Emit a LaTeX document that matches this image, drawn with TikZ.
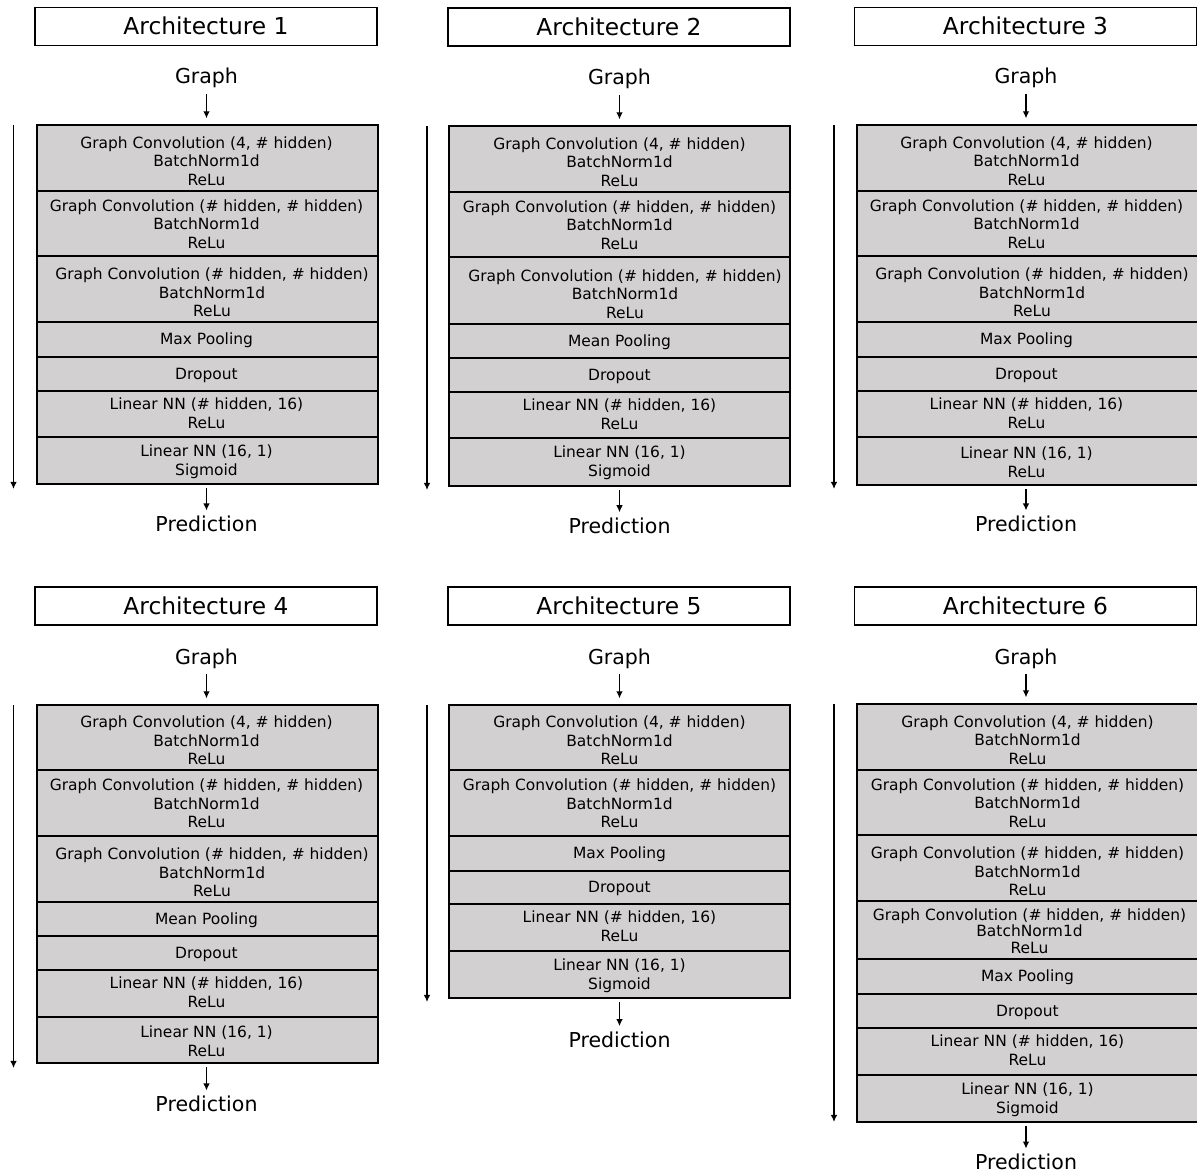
\documentclass[tikz,border=0pt]{standalone}
\usepackage{fontspec}
\setmainfont{DejaVu Sans}
\usetikzlibrary{arrows.meta}
\definecolor{layfill}{RGB}{211,208,209}
\tikzset{
  layerbox/.style={draw=black, fill=layfill, line width=1.1pt, minimum width=255.75pt, inner sep=0pt, outer sep=0pt},
  laytext/.style={align=center, inner sep=0pt, font=\fontsize{11.6}{13.95}\selectfont},
  tighttext/.style={font=\fontsize{11.6}{12.5}\selectfont},
  titlebox/.style={draw=black, line width=0.8pt, minimum width=256.5pt, minimum height=28.5pt, inner sep=0pt, font=\fontsize{17.5}{21}\selectfont},
  io/.style={inner sep=0pt, anchor=base, font=\fontsize{15.4}{18}\selectfont},
  tipstyle/.style={-{Latex[length=5.3pt,width=5pt]}},
  gin/.style={tipstyle, line width=1pt, shorten <=4.1pt, shorten >=5pt},
  gout/.style={tipstyle, line width=1pt, shorten <=3.2pt, shorten >=4pt},
  side/.style={tipstyle, line width=1.3pt},
}
\newcommand\archlayer[8][]{%
  \pgfmathsetlengthmacro\layh{(#5-#4)*0.75}%
  \node[layerbox, minimum height=\layh, anchor=north west] (#2) at (#3,#4) {};
  \node[laytext, #1] (#2t) at ([shift={(#6,#7)}]#2.center) {#8};
}
\begin{document}
\begin{tikzpicture}[x=0.75pt, y=-0.75pt]
\useasboundingbox (0,0) rectangle (1197,1173);

% ---------------- Architecture 1 ----------------
\node[titlebox] (t1) at (206,26.2) {Architecture 1};
\node[io] (g1) at (206.5,84) {Graph};
\archlayer{a1l1}{37}{125}{191}{-1}{3}{Graph Convolution (4, \# hidden)\\BatchNorm1d\\ReLu}
\archlayer{a1l2}{37}{191}{256}{-1}{0.5}{Graph Convolution (\# hidden, \# hidden)\\BatchNorm1d\\ReLu}
\archlayer{a1l3}{37}{256}{322}{4.5}{3.5}{Graph Convolution (\# hidden, \# hidden)\\BatchNorm1d\\ReLu}
\archlayer{a1l4}{37}{322}{357}{-1}{1}{Max Pooling}
\archlayer{a1l5}{37}{357}{391}{-1}{1}{Dropout}
\archlayer{a1l6}{37}{391}{437}{-1}{-1}{Linear NN (\# hidden, 16)\\ReLu}
\archlayer{a1l7}{37}{437}{484}{-1}{1}{Linear NN (16, 1)\\Sigmoid}
\node[io] (p1) at (206.5,531.7) {Prediction};
\draw[gin] (g1.south) -- (g1.south |- a1l1.north);
\draw[gout] (a1l7.south -| p1) -- (p1.north);
\coordinate (s1a) at (13.5,125);
\coordinate (s1b) at (13.5,489);
\draw[side] (s1a) -- (s1b);

% ---------------- Architecture 2 ----------------
\node[titlebox] (t2) at (619,27) {Architecture 2};
\node[io] (g2) at (619.5,85) {Graph};
\archlayer{a2l1}{449}{126}{192}{0}{3}{Graph Convolution (4, \# hidden)\\BatchNorm1d\\ReLu}
\archlayer{a2l2}{449}{192}{257}{0}{0.5}{Graph Convolution (\# hidden, \# hidden)\\BatchNorm1d\\ReLu}
\archlayer{a2l3}{449}{257}{324}{5.5}{3.5}{Graph Convolution (\# hidden, \# hidden)\\BatchNorm1d\\ReLu}
\archlayer{a2l4}{449}{324}{358}{0}{1}{Mean Pooling}
\archlayer{a2l5}{449}{358}{392}{0}{1}{Dropout}
\archlayer{a2l6}{449}{392}{438}{0}{-1}{Linear NN (\# hidden, 16)\\ReLu}
\archlayer{a2l7}{449}{438}{486}{0}{1}{Linear NN (16, 1)\\Sigmoid}
\node[io] (p2) at (619.5,533.5) {Prediction};
\draw[gin] (g2.south) -- (g2.south |- a2l1.north);
\draw[gout] (a2l7.south -| p2) -- (p2.north);
\coordinate (s2a) at (427,126);
\coordinate (s2b) at (427,490);
\draw[side] (s2a) -- (s2b);

% ---------------- Architecture 3 ----------------
\node[titlebox] (t3) at (1025.5,26.2) {Architecture 3};
\node[io] (g3) at (1026,84) {Graph};
\archlayer{a3l1}{857}{125}{191}{-1}{3}{Graph Convolution (4, \# hidden)\\BatchNorm1d\\ReLu}
\archlayer{a3l2}{857}{191}{256}{-1}{0.5}{Graph Convolution (\# hidden, \# hidden)\\BatchNorm1d\\ReLu}
\archlayer{a3l3}{857}{256}{322}{4.5}{3.5}{Graph Convolution (\# hidden, \# hidden)\\BatchNorm1d\\ReLu}
\archlayer{a3l4}{857}{322}{357}{-1}{1}{Max Pooling}
\archlayer{a3l5}{857}{357}{391}{-1}{1}{Dropout}
\archlayer{a3l6}{857}{391}{437}{-1}{-1}{Linear NN (\# hidden, 16)\\ReLu}
\archlayer{a3l7}{857}{437}{485}{-1}{1}{Linear NN (16, 1)\\ReLu}
\node[io] (p3) at (1026,531.7) {Prediction};
\draw[gin] (g3.south) -- (g3.south |- a3l1.north);
\draw[gout] (a3l7.south -| p3) -- (p3.north);
\coordinate (s3a) at (834,125);
\coordinate (s3b) at (834,489);
\draw[side] (s3a) -- (s3b);

% ---------------- Architecture 4 ----------------
\node[titlebox] (t4) at (206,606) {Architecture 4};
\node[io] (g4) at (206.5,664.3) {Graph};
\archlayer{a4l1}{37}{705}{770}{-1}{3}{Graph Convolution (4, \# hidden)\\BatchNorm1d\\ReLu}
\archlayer{a4l2}{37}{770}{836}{-1}{0.5}{Graph Convolution (\# hidden, \# hidden)\\BatchNorm1d\\ReLu}
\archlayer{a4l3}{37}{836}{902}{4.5}{3.5}{Graph Convolution (\# hidden, \# hidden)\\BatchNorm1d\\ReLu}
\archlayer{a4l4}{37}{902}{936}{-1}{1}{Mean Pooling}
\archlayer{a4l5}{37}{936}{970}{-1}{1}{Dropout}
\archlayer{a4l6}{37}{970}{1017}{-1}{-1}{Linear NN (\# hidden, 16)\\ReLu}
\archlayer{a4l7}{37}{1017}{1063}{-1}{1}{Linear NN (16, 1)\\ReLu}
\node[io] (p4) at (206.5,1111.7) {Prediction};
\draw[gin] (g4.south) -- (g4.south |- a4l1.north);
\draw[gout] (a4l7.south -| p4) -- (p4.north);
\coordinate (s4a) at (13.5,705);
\coordinate (s4b) at (13.5,1068);
\draw[side] (s4a) -- (s4b);

% ---------------- Architecture 5 ----------------
\node[titlebox] (t5) at (619,606) {Architecture 5};
\node[io] (g5) at (619.5,664.3) {Graph};
\archlayer{a5l1}{449}{705}{770}{0}{3}{Graph Convolution (4, \# hidden)\\BatchNorm1d\\ReLu}
\archlayer{a5l2}{449}{770}{836}{0}{0.5}{Graph Convolution (\# hidden, \# hidden)\\BatchNorm1d\\ReLu}
\archlayer{a5l3}{449}{836}{871}{0}{1}{Max Pooling}
\archlayer{a5l4}{449}{871}{904}{0}{1}{Dropout}
\archlayer{a5l5}{449}{904}{951}{0}{-1}{Linear NN (\# hidden, 16)\\ReLu}
\archlayer{a5l6}{449}{951}{998}{0}{1}{Linear NN (16, 1)\\Sigmoid}
\node[io] (p5) at (619.5,1047.3) {Prediction};
\draw[gin] (g5.south) -- (g5.south |- a5l1.north);
\draw[gout] (a5l6.south -| p5) -- (p5.north);
\coordinate (s5a) at (427,705);
\coordinate (s5b) at (427,1002);
\draw[side] (s5a) -- (s5b);

% ---------------- Architecture 6 ----------------
\node[titlebox] (t6) at (1025.5,606) {Architecture 6};
\node[io] (g6) at (1026,664.3) {Graph};
\archlayer{a6l1}{857}{704}{770}{0}{3}{Graph Convolution (4, \# hidden)\\BatchNorm1d\\ReLu}
\archlayer{a6l2}{857}{770}{835}{0}{0.5}{Graph Convolution (\# hidden, \# hidden)\\BatchNorm1d\\ReLu}
\archlayer{a6l3}{857}{835}{901}{0}{3.5}{Graph Convolution (\# hidden, \# hidden)\\BatchNorm1d\\ReLu}
\archlayer[tighttext]{a6l4}{857}{901}{959}{2}{1}{Graph Convolution (\# hidden, \# hidden)\\BatchNorm1d\\ReLu}
\archlayer{a6l5}{857}{959}{994}{0}{1}{Max Pooling}
\archlayer{a6l6}{857}{994}{1028}{0}{1}{Dropout}
\archlayer{a6l7}{857}{1028}{1075}{0}{-1}{Linear NN (\# hidden, 16)\\ReLu}
\archlayer{a6l8}{857}{1075}{1122}{0}{1}{Linear NN (16, 1)\\Sigmoid}
\node[io] (p6) at (1026,1169.8) {Prediction};
\draw[gin] (g6.south) -- (g6.south |- a6l1.north);
\draw[gout] (a6l8.south -| p6) -- (p6.north);
\coordinate (s6a) at (834,704);
\coordinate (s6b) at (834,1122);
\draw[side] (s6a) -- (s6b);
\end{tikzpicture}
\end{document}
